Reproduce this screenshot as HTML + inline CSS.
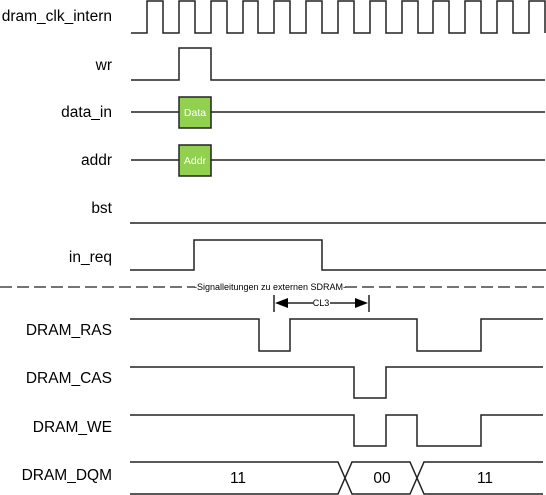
<!DOCTYPE html>
<html><head><style>body{margin:0;background:#fff}svg{display:block}</style></head><body>
<svg width="546" height="495" xmlns="http://www.w3.org/2000/svg" font-family="Liberation Sans, Arial, sans-serif">
<g font-size="15.5" text-anchor="end" fill="#000">
<text x="112" y="21">dram_clk_intern</text>
<text x="112" y="70">wr</text>
<text x="112" y="117">data_in</text>
<text x="112" y="165">addr</text>
<text x="112" y="213">bst</text>
<text x="112" y="262">in_req</text>
<text x="112" y="335">DRAM_RAS</text>
<text x="112" y="383">DRAM_CAS</text>
<text x="112" y="432">DRAM_WE</text>
<text x="112" y="480">DRAM_DQM</text>
</g>
<g fill="none" stroke="#222" stroke-width="1.5">
<path d="M131 33 H147 V1 H163 V33 H179 V1 H195 V33 H211 V1 H227 V33 H243 V1 H258 V33 H274 V1 H290 V33 H306 V1 H322 V33 H338 V1 H354 V33 H370 V1 H386 V33 H402 V1 H418 V33 H433 V1 H449 V33 H465 V1 H481 V33 H497 V1 H513 V33 H529 V1 H545 V33"/>
<path d="M131 80 H179 V48 H211 V80 H545"/>
<path d="M131 112 H179 M211 112 H545"/>
<path d="M131 160 H179 M211 160 H545"/>
<path d="M130 223 H546"/>
<path d="M130 270 H194 V240 H322 V270 H546"/>
<path d="M130 319 H259 V351 H290 V319 H417 V351 H481 V319 H543"/>
<path d="M130 367 H354 V398 H386 V367 H543"/>
<path d="M130 415 H354 V446 H386 V415 H417 V446 H481 V415 H543"/>
<path d="M130 462 H338 L352 494 H410 L424 462 H543 M130 494 H338 L352 462 H410 L424 494 H543"/>
<path d="M274 295 V312 M369 295 V312 M286 303 H313 M330 303 H357"/>
</g>
<path d="M0 287 H195 M345 287 H546" stroke="#222" stroke-width="1.3" stroke-dasharray="12 5"/>
<path d="M275 303 L288 298 L288 308 Z M368 303 L355 298 L355 308 Z" fill="#000"/>
<text x="270" y="290" font-size="9" text-anchor="middle">-Signalleitungen zu externen SDRAM-</text>
<text x="321" y="306" font-size="9" text-anchor="middle">CL3</text>
<rect x="179" y="97" width="32" height="31" fill="#92d050" stroke="#222" stroke-width="1.5"/>
<rect x="179" y="145" width="32" height="31" fill="#92d050" stroke="#222" stroke-width="1.5"/>
<text x="195" y="116" font-size="10.5" fill="#fff" text-anchor="middle">Data</text>
<text x="195" y="164" font-size="10.5" fill="#fff" text-anchor="middle">Addr</text>
<g font-size="15.5" text-anchor="middle">
<text x="238" y="483">11</text>
<text x="382" y="483">00</text>
<text x="485" y="483">11</text>
</g>
</svg>
</body></html>
